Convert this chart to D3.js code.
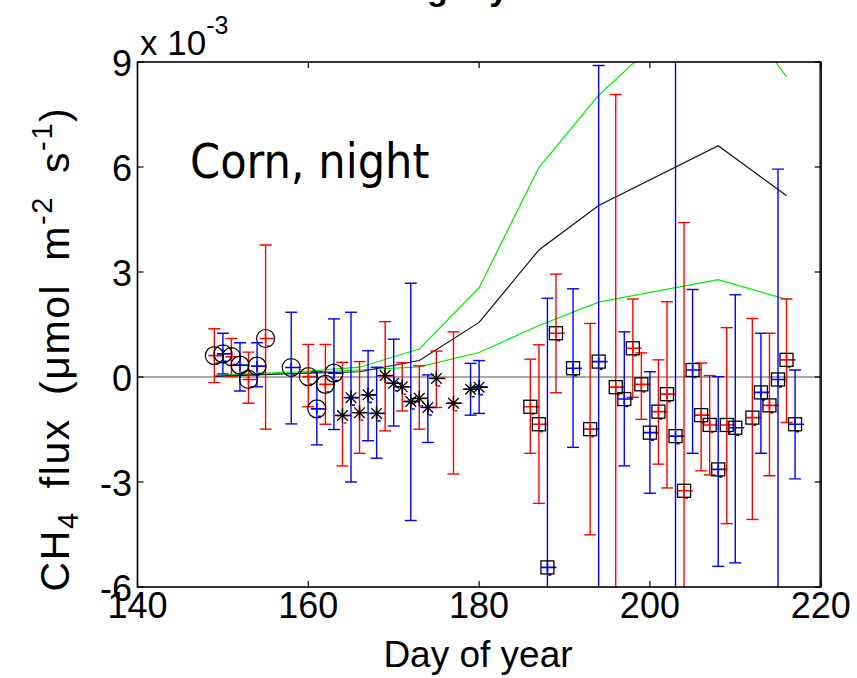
<!DOCTYPE html>
<html>
<head>
<meta charset="utf-8">
<script src="https://cdnjs.cloudflare.com/ajax/libs/d3/7.8.5/d3.min.js"></script>
<style>
  body { margin: 0; background: #fff; }
  text { font-family: "Liberation Sans", Arial, sans-serif; fill: #000; }
</style>
</head>
<body>
<div id="chart"></div>
<script>
// CH4 flux, corn night -- values in 1e-3 umol m-2 s-1
var xTicks = [140, 160, 180, 200, 220];
var yTicks = [-6, -3, 0, 3, 6, 9];

// circles (early season)
var circleDays = [149, 150, 151, 152, 153, 154, 155, 158, 160, 161, 162, 163];
var circleVals = [0.61, 0.66, 0.58, 0.34, -0.07, 0.31, 1.10, 0.27, 0.01, -0.91, -0.21, 0.11];
var circleHi   = [1.38, 1.25, 1.10, 0.98, 0.71, 0.98, 3.77, 1.85, 0.93, 0.15, 0.93, 1.66];
var circleLo   = [-0.16, 0.09, 0.01, -0.40, -0.75, -0.28, -1.49, -1.34, -0.85, -1.94, -1.35, -1.50];
var circleCol  = ["r", "b", "r", "b", "r", "b", "r", "b", "r", "b", "r", "b"];

// asterisks
var starDays = [164, 165, 166, 167, 168, 169, 170, 171, 172, 173, 174, 175, 177, 179, 180];
var starVals = [-1.10, -0.59, -1.02, -0.51, -1.04, 0.04, -0.18, -0.28, -0.70, -0.61, -0.87, -0.04, -0.75, -0.35, -0.29];
var starHi   = [0.42, 1.85, 0.44, 0.75, 0.28, 1.58, 1.08, 0.41, 2.68, 0.32, 0.06, 0.74, 1.29, 0.39, 0.47];
var starLo   = [-2.54, -3.00, -2.18, -1.82, -2.32, -1.54, -1.40, -0.97, -4.10, -1.49, -1.87, -0.87, -2.77, -1.09, -1.04];
var starCol  = ["r", "b", "r", "b", "b", "r", "b", "r", "b", "r", "b", "r", "r", "b", "b"];

// squares (late season)
var sqDays = [186, 187, 188, 189, 191, 193, 194, 196, 197, 198, 199, 200, 201, 202, 203, 204, 205, 206, 207, 208, 209, 210, 212, 213, 214, 215, 216, 217];
var sqVals = [-0.85, -1.35, -5.44, 1.25, 0.25, -1.49, 0.44, -0.29, -0.63, 0.82, -0.21, -1.59, -0.99, -0.49, -1.69, -3.25, 0.20, -1.09, -1.37, -2.64, -1.37, -1.45, -1.16, -0.44, -0.81, -0.07, 0.49, -1.35];
var sqHi   = [0.51, 0.92, 2.25, 2.94, 2.52, 1.53, 8.90, 8.07, 1.29, 2.23, 0.69, 0.15, 0.49, 2.15, 12.0, 4.41, 2.50, 0.40, 0.04, 0.01, 1.41, 2.35, 1.67, 1.25, 1.25, 5.94, 2.23, 0.20];
var sqLo   = [-2.18, -3.61, -8.0, -0.45, -2.01, -4.51, -8.0, -8.0, -2.54, -0.58, -1.21, -3.32, -2.49, -3.17, -8.0, -8.0, -2.18, -2.68, -2.80, -5.41, -4.19, -5.31, -4.07, -2.18, -2.82, -8.0, -1.30, -2.91];
var sqCol  = ["r", "r", "b", "r", "b", "r", "b", "r", "b", "r", "r", "b", "r", "r", "b", "r", "b", "r", "r", "b", "r", "b", "r", "b", "r", "b", "r", "b"];

// model lines
var modelDays  = [149, 159, 166, 173, 180, 187, 194, 208, 216];
var modelMid   = [0.02, 0.10, 0.15, 0.47, 1.56, 3.63, 4.90, 6.61, 5.18];
var modelUpper = [0.05, 0.15, 0.28, 0.80, 2.55, 5.98, 8.05, 11.2, 8.58];
var modelLower = [0.03, 0.12, 0.20, 0.29, 0.70, 1.47, 2.14, 2.78, 2.22];

var width = 857, height = 678;
var colors = { r: "#ff0000", b: "#0000ff" };

var svg = d3.select("#chart").append("svg")
	.attr("width", width).attr("height", height)
	.style("background-color", "#fff");

var x = d3.scaleLinear().domain([140, 220]).range([137.5, 820.7]);
var y = d3.scaleLinear().domain([-6, 9]).range([587, 62]);

svg.append("clipPath").attr("id", "plotclip")
	.append("rect")
	.attr("x", x(140)).attr("y", y(9))
	.attr("width", x(220) - x(140)).attr("height", y(-6) - y(9));

var plot = svg.append("g").attr("clip-path", "url(#plotclip)");

// zero line
plot.append("line")
	.attr("x1", x(140)).attr("x2", x(220))
	.attr("y1", y(0)).attr("y2", y(0))
	.style("stroke", "#555").style("stroke-width", 1.2);

// model lines
function modelLine(vals, col) {
	var line = d3.line()
		.x(function (d, i) { return x(modelDays[i]); })
		.y(function (d) { return y(d); });
	plot.append("path")
		.datum(vals)
		.attr("d", line)
		.style("fill", "none")
		.style("stroke", col)
		.style("stroke-width", 1.2);
}
modelLine(modelUpper, "#00ee00");
modelLine(modelLower, "#00ee00");
modelLine(modelMid, "#111");

function makeRows(days, vals, hi, lo, col) {
	return days.map(function (d, i) {
		return { day: d, v: vals[i], hi: hi[i], lo: lo[i], c: colors[col[i]] };
	});
}
var circles = makeRows(circleDays, circleVals, circleHi, circleLo, circleCol);
var stars = makeRows(starDays, starVals, starHi, starLo, starCol);
var squares = makeRows(sqDays, sqVals, sqHi, sqLo, sqCol);
var allRows = circles.concat(stars, squares);

// error bars
var eb = plot.selectAll("g.eb").data(allRows).enter().append("g").attr("class", "eb")
	.style("stroke", function (d) { return d.c; })
	.style("stroke-width", 1.4);
eb.append("line")
	.attr("x1", function (d) { return x(d.day); }).attr("x2", function (d) { return x(d.day); })
	.attr("y1", function (d) { return y(d.hi); }).attr("y2", function (d) { return y(d.lo); });
eb.append("line")
	.attr("x1", function (d) { return x(d.day) - 6; }).attr("x2", function (d) { return x(d.day) + 6; })
	.attr("y1", function (d) { return y(d.hi); }).attr("y2", function (d) { return y(d.hi); });
eb.append("line")
	.attr("x1", function (d) { return x(d.day) - 6; }).attr("x2", function (d) { return x(d.day) + 6; })
	.attr("y1", function (d) { return y(d.lo); }).attr("y2", function (d) { return y(d.lo); });
// colored + marker
eb.append("path")
	.attr("d", function (d) {
		var cx = x(d.day), cy = y(d.v);
		return "M" + (cx - 6) + "," + cy + "H" + (cx + 9) +
			"M" + cx + "," + (cy - 5) + "V" + (cy + 5) +
			"M" + (cx + 1) + "," + (cy + 7.5) + "H" + (cx + 4);
	})
	.style("stroke-width", 1.6);

// black markers
plot.selectAll("circle.mk").data(circles).enter().append("circle")
	.attr("class", "mk")
	.attr("cx", function (d) { return x(d.day); })
	.attr("cy", function (d) { return y(d.v); })
	.attr("r", 9)
	.style("fill", "none").style("stroke", "#000").style("stroke-width", 1.2);

plot.selectAll("path.star").data(stars).enter().append("path")
	.attr("class", "star")
	.attr("d", function (d) {
		var cx = x(d.day), cy = y(d.v), s = 7.5, t = 5.3;
		return "M" + (cx - s) + "," + cy + "H" + (cx + s) +
			"M" + cx + "," + (cy - s) + "V" + (cy + s) +
			"M" + (cx - t) + "," + (cy - t) + "L" + (cx + t) + "," + (cy + t) +
			"M" + (cx - t) + "," + (cy + t) + "L" + (cx + t) + "," + (cy - t);
	})
	.style("fill", "none").style("stroke", "#000").style("stroke-width", 1.3);

plot.selectAll("rect.sq").data(squares).enter().append("rect")
	.attr("class", "sq")
	.attr("x", function (d) { return x(d.day) - 6.5; })
	.attr("y", function (d) { return y(d.v) - 6.5; })
	.attr("width", 13).attr("height", 13)
	.style("fill", "none").style("stroke", "#000").style("stroke-width", 1.3);

// axes box
var ax = svg.append("g");
ax.append("rect")
	.attr("x", x(140)).attr("y", y(9))
	.attr("width", x(220) - x(140)).attr("height", y(-6) - y(9))
	.style("fill", "none").style("stroke", "#000").style("stroke-width", 1.6);
ax.append("line")
	.attr("x1", x(220)).attr("x2", x(220)).attr("y1", y(9)).attr("y2", y(-6))
	.style("stroke", "#222").style("stroke-width", 2.6);

var tl = 6;
xTicks.forEach(function (t) {
	ax.append("line").attr("x1", x(t)).attr("x2", x(t)).attr("y1", y(-6)).attr("y2", y(-6) - tl)
		.style("stroke", "#000").style("stroke-width", 1.2);
	ax.append("line").attr("x1", x(t)).attr("x2", x(t)).attr("y1", y(9)).attr("y2", y(9) + tl)
		.style("stroke", "#000").style("stroke-width", 1.2);
	ax.append("text").attr("x", x(t)).attr("y", 618)
		.attr("text-anchor", "middle").style("font-size", "36px").text(t);
});
yTicks.forEach(function (t) {
	ax.append("line").attr("x1", x(140)).attr("x2", x(140) + tl).attr("y1", y(t)).attr("y2", y(t))
		.style("stroke", "#000").style("stroke-width", 1.2);
	ax.append("line").attr("x1", x(220)).attr("x2", x(220) - tl).attr("y1", y(t)).attr("y2", y(t))
		.style("stroke", "#000").style("stroke-width", 1.2);
	ax.append("text").attr("x", 132).attr("y", y(t) + 14)
		.attr("text-anchor", "end").style("font-size", "36px").text(t);
});

// exponent label
var ex = ax.append("text").attr("x", 140).attr("y", 55).style("font-size", "35px");
ex.append("tspan").text("x 10");
ex.append("tspan").attr("dy", -21).style("font-size", "25px").text("-3");

// axis titles
svg.append("text").attr("x", 478).attr("y", 667)
	.attr("text-anchor", "middle").style("font-size", "37px").text("Day of year");

var yl = svg.append("text")
	.attr("transform", "translate(69,349) rotate(-90)")
	.attr("text-anchor", "middle").style("font-size", "41px")
	.style("letter-spacing", "1.6px").style("word-spacing", "10px");
yl.append("tspan").text("CH");
yl.append("tspan").attr("dy", 9).style("font-size", "29px").text("4");
yl.append("tspan").attr("dy", -9).text(" flux (\u03bcmol m");
yl.append("tspan").attr("dy", -17).style("font-size", "29px").text("-2");
yl.append("tspan").attr("dy", 17).text(" s");
yl.append("tspan").attr("dy", -17).style("font-size", "29px").text("-1");
yl.append("tspan").attr("dy", 17).text(")");

// title, cut off at the top edge so only descenders show
svg.append("text").attr("x", 393).attr("y", 0)
	.style("font-size", "34px").style("font-weight", "bold").text("Nightly flux");

// panel label
svg.append("text").attr("x", 190).attr("y", 178)
	.style("font-family", "'DejaVu Sans Condensed', 'DejaVu Sans', sans-serif")
	.style("font-size", "48px").text("Corn, night");
</script>
</body>
</html>
